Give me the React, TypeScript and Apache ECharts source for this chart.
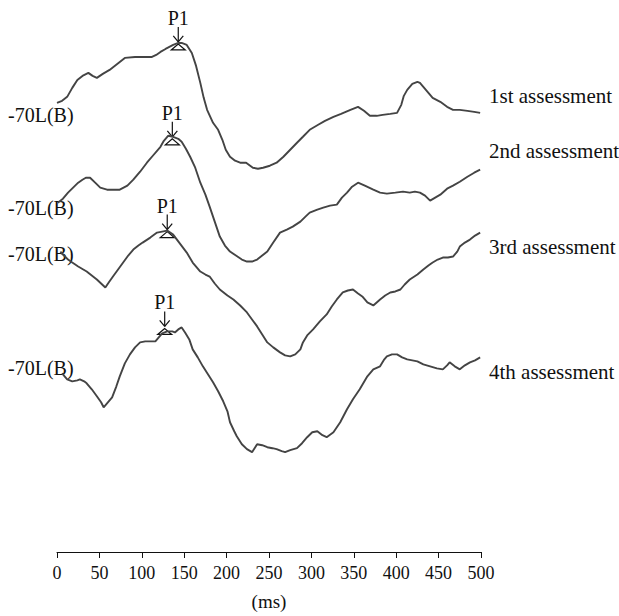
import React, { useEffect, useRef } from "react";
import * as echarts from "echarts";

// x in ms, amplitude relative to each trace's own start level (arbitrary units)
const trace1: [number, number][] = [
  [0,0],[6,2],[12,6],[18,15],[24,23],[30,27],[37,30],[42,27],[47,25],[54,29],[62,33],[71,39],[80,45],[92,46],[104,46],[112,46],[117,48],[122,51],[128,54],[137,58],[143,60],[147,60],[153,58],[159,50],[164,37],[169,20],[173,5],[177,-7],[184,-20],[190,-27],[195,-37],[199,-47],[204,-54],[210,-58],[216,-60],[223,-60],[231,-65],[237,-66],[243,-65],[251,-63],[259,-60],[267,-54],[275,-47],[283,-40],[290,-34],[298,-27],[308,-22],[316,-18],[326,-14],[335,-11],[346,-7],[355,-4],[362,-8],[369,-13],[377,-13],[384,-12],[393,-11],[401,-10],[406,-2],[409,7],[413,13],[419,19],[425,21],[428,20],[432,16],[438,10],[443,5],[452,1],[460,-4],[467,-7],[475,-7],[484,-8],[492,-9],[499,-10]
];
const trace2: [number, number][] = [
  [1,0],[7,4],[13,10],[19,15],[25,20],[30,23],[34,25],[39,25],[45,20],[51,15],[59,13],[66,13],[74,13],[83,17],[90,23],[98,31],[106,40],[113,47],[122,56],[126,62],[131,67],[137,66],[143,64],[147,61],[152,54],[157,46],[163,35],[169,20],[175,8],[180,-4],[186,-19],[192,-34],[198,-43],[204,-49],[211,-53],[218,-57],[224,-59],[230,-59],[236,-57],[242,-53],[248,-49],[255,-40],[263,-30],[271,-27],[278,-24],[287,-19],[293,-14],[298,-10],[307,-7],[314,-5],[322,-3],[330,-2],[336,5],[342,10],[348,16],[355,20],[363,17],[373,13],[381,10],[389,9],[399,10],[408,11],[416,10],[422,11],[428,10],[434,7],[440,2],[446,5],[452,8],[460,14],[467,17],[475,21],[484,26],[492,30],[499,33]
];
const trace3: [number, number][] = [
  [4,3],[7,0],[13,-5],[18,-8],[25,-12],[31,-15],[35,-17],[41,-21],[47,-25],[52,-29],[57,-33],[61,-28],[66,-22],[72,-15],[78,-8],[84,-1],[90,5],[96,9],[101,12],[110,17],[118,22],[124,23],[130,24],[137,20],[145,11],[153,2],[160,-8],[169,-17],[175,-20],[180,-22],[186,-29],[192,-35],[201,-41],[208,-45],[216,-51],[224,-58],[230,-65],[236,-72],[242,-80],[248,-88],[255,-93],[263,-98],[269,-101],[275,-102],[281,-100],[287,-95],[290,-88],[295,-81],[302,-75],[310,-67],[318,-60],[324,-52],[330,-45],[337,-38],[343,-36],[349,-35],[355,-39],[360,-42],[366,-48],[373,-51],[377,-48],[381,-45],[387,-41],[393,-38],[399,-37],[405,-35],[410,-30],[416,-25],[425,-20],[432,-15],[438,-11],[443,-8],[449,-5],[455,-3],[461,-3],[467,-2],[472,3],[475,8],[481,12],[487,15],[493,19],[499,22]
];
const trace4: [number, number][] = [
  [6,3],[12,-3],[18,-5],[24,-4],[27,-3],[32,-5],[35,-7],[41,-13],[47,-20],[52,-26],[55,-31],[60,-26],[65,-21],[70,-10],[74,0],[80,13],[86,22],[92,29],[98,34],[104,35],[110,35],[116,35],[119,38],[124,43],[130,45],[136,45],[139,44],[143,47],[147,49],[151,44],[156,37],[160,27],[166,19],[172,10],[178,2],[184,-6],[190,-15],[196,-25],[201,-35],[204,-46],[209,-55],[212,-60],[218,-68],[224,-73],[230,-76],[236,-68],[242,-69],[248,-71],[254,-72],[259,-73],[265,-75],[269,-76],[275,-74],[283,-72],[289,-67],[295,-61],[301,-56],[307,-55],[313,-59],[318,-61],[326,-56],[334,-46],[342,-33],[349,-23],[357,-13],[366,0],[373,7],[381,10],[386,17],[389,20],[395,22],[401,22],[407,19],[413,17],[419,16],[425,15],[432,12],[440,10],[448,8],[455,7],[460,11],[463,14],[469,10],[475,7],[481,11],[487,14],[493,16],[499,19]
];

// P1 peak (arrow tip) per trace: [ms, amplitude]
const p1Peaks: [number, number][] = [
  [143, 61],
  [136, 66],
  [130, 25],
  [127, 50],
];

const traceOffsets = [450, 350, 298, 176];
const traces = [trace1, trace2, trace3, trace4];
const leftLabel = "-70L(B)";
const rightLabels = ["1st assessment", "2nd assessment", "3rd assessment", "4th assessment"];
const xTicks = [0, 50, 100, 150, 200, 250, 300, 350, 400, 450, 500];
const xName = "(ms)";

const FONT = "'Liberation Serif', 'DejaVu Serif', serif";

export default function App() {
  const ref = useRef<HTMLDivElement>(null);
  useEffect(() => {
    if (!ref.current) return;
    const chart = echarts.init(ref.current, undefined, { renderer: "svg" });

    const lineSeries = traces.map((t, i) => ({
      type: "line",
      data: t.map(([x, y]) => [x, y + traceOffsets[i]]),
      showSymbol: false,
      symbol: "none",
      silent: true,
      lineStyle: { color: "#444", width: 1.9 },
    }));

    const markerSeries = {
      type: "custom",
      silent: true,
      data: p1Peaks.map(([x, y], i) => [x, y + traceOffsets[i]]),
      renderItem: (params: any, api: any) => {
        const p = api.coord([api.value(0), api.value(1)]);
        const cx = p[0];
        const ty = p[1];
        const st = { stroke: "#111", lineWidth: 1.2, fill: "none" };
        return {
          type: "group",
          children: [
            {
              type: "text",
              style: {
                text: "P1",
                x: cx,
                y: ty - 24,
                fill: "#111",
                font: `20px ${FONT}`,
                textAlign: "center",
                textVerticalAlign: "middle",
                align: "center",
                verticalAlign: "middle",
              },
            },
            { type: "line", shape: { x1: cx, y1: ty - 15, x2: cx, y2: ty }, style: st },
            { type: "line", shape: { x1: cx - 5, y1: ty - 6, x2: cx, y2: ty }, style: st },
            { type: "line", shape: { x1: cx + 5, y1: ty - 6, x2: cx, y2: ty }, style: st },
            {
              type: "polygon",
              shape: { points: [[cx, ty + 2], [cx - 7, ty + 8], [cx + 7, ty + 8]] },
              style: { stroke: "#111", lineWidth: 1.2, fill: "#fff" },
            },
          ],
        };
      },
    };

    const leftYs = [117, 210, 256, 370];
    const rightYs = [97, 152, 248, 373];
    const graphics: any[] = [];
    leftYs.forEach((y) =>
      graphics.push({
        type: "text",
        left: 8,
        top: y - 12,
        style: { text: leftLabel, fill: "#111", font: `20px ${FONT}` },
      })
    );
    rightLabels.forEach((s, i) =>
      graphics.push({
        type: "text",
        left: 489,
        top: rightYs[i] - 12,
        style: { text: s, fill: "#111", font: `21px ${FONT}` },
      })
    );

    chart.setOption({
      animation: false,
      backgroundColor: "#fff",
      grid: { left: 57, right: 138, top: 20, bottom: 63, containLabel: false },
      xAxis: {
        type: "value",
        min: xTicks[0],
        max: xTicks[xTicks.length - 1],
        interval: 50,
        name: xName,
        nameLocation: "middle",
        nameGap: 40,
        nameTextStyle: { color: "#111", fontSize: 19, fontFamily: FONT },
        axisLine: { show: true, lineStyle: { color: "#111", width: 1 } },
        axisTick: { show: true, length: 6, inside: false, lineStyle: { color: "#111" } },
        axisLabel: { color: "#111", fontSize: 18, fontFamily: FONT, margin: 12 },
        splitLine: { show: false },
      },
      yAxis: { type: "value", min: 0, max: 533, show: false, splitLine: { show: false } },
      graphic: graphics,
      series: [...lineSeries, markerSeries],
    });
    return () => chart.dispose();
  }, []);
  return (
    <div
      ref={ref}
      style={{ position: "fixed", left: 0, top: 0, width: 619, height: 616, background: "#fff" }}
    />
  );
}
